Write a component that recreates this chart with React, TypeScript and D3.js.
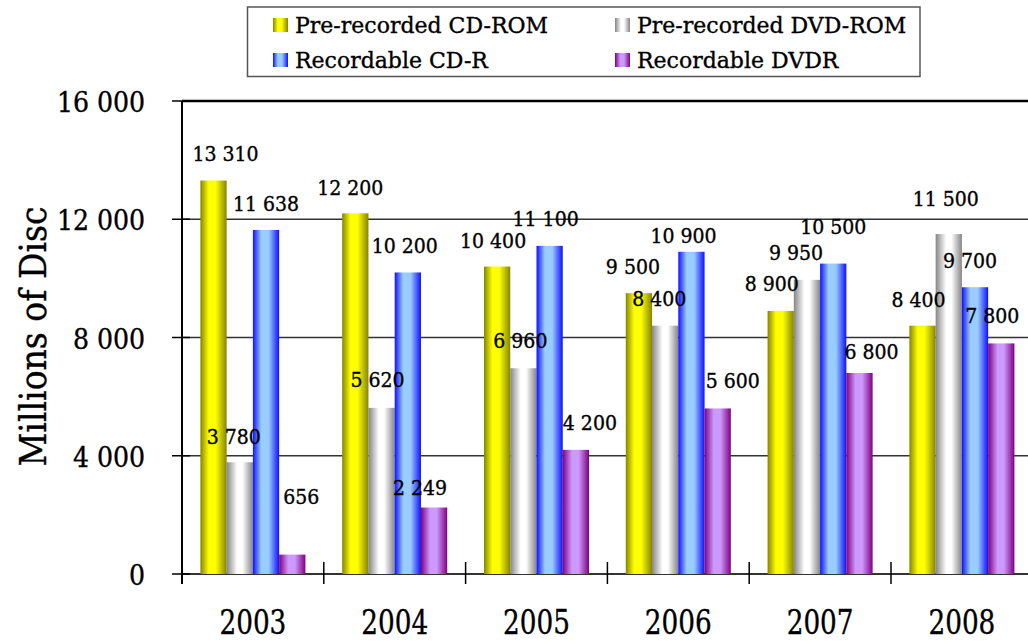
import React from "react";
import * as d3 from "d3";

const years = ["2003", "2004", "2005", "2006", "2007", "2008"];
const seriesNames = ["Pre-recorded CD-ROM", "Pre-recorded DVD-ROM", "Recordable CD-R", "Recordable DVDR"];
const cdRom = [13310, 12200, 10400, 9500, 8900, 8400];
const dvdRom = [3780, 5620, 6960, 8400, 9950, 11500];
const cdR = [11638, 10200, 11100, 10900, 10500, 9700];
const dvdR = [656, 2249, 4200, 5600, 6800, 7800];
const yTicks = [0, 4000, 8000, 12000, 16000];
const seriesValues = [cdRom, dvdRom, cdR, dvdR];

// label nudges [dx, dy] relative to bar centre / bar top (per series, per year)
const labelNudge: number[][][] = [
  [[12, -20], [-5, -18], [-4, -19], [-6, -19], [-9, -20], [-4, -19]],
  [[-6, -18], [-4, -21], [-3, -20], [-6, -20], [-11, -20], [-3, -28]],
  [[0, -19], [-3, -19], [-4, -20], [-8, -9], [0, -30], [-5, -19]],
  [[9, -51], [-14, -13], [14, -20], [15, -20], [12, -14], [-9, -20]],
];

const gradients = [
  { id: "gY", stops: [["0%", "#858500"], ["32%", "#ffff00"], ["58%", "#ffff00"], ["100%", "#858500"]] },
  { id: "gG", stops: [["0%", "#858585"], ["40%", "#ffffff"], ["60%", "#ffffff"], ["100%", "#858585"]] },
  { id: "gB", stops: [["0%", "#1010ff"], ["32%", "#99ccff"], ["60%", "#99ccff"], ["100%", "#1010ff"]] },
  { id: "gP", stops: [["0%", "#800080"], ["35%", "#cc99ff"], ["60%", "#cc99ff"], ["100%", "#800080"]] },
];

const FONT = "'DejaVu Serif Condensed', 'DejaVu Serif', serif";
const FONT_WIDE = "'DejaVu Serif', serif";

export default function App() {
  const W = 1028, H = 643;
  const x0 = d3.scaleBand<string>().domain(years).range([182, 182 + 6 * 141.8]).paddingInner(0).paddingOuter(0);
  const x1 = d3.scaleBand<number>().domain([0, 1, 2, 3]).range([0, x0.bandwidth()]).paddingInner(0).paddingOuter(0.7);
  const y = d3.scaleLinear().domain([0, 16000]).range([574, 101]);
  const fmt = d3.formatLocale({ thousands: " ", grouping: [3], decimal: ".", currency: ["", ""] }).format(",d");

  const boundaries = years.map((yr) => x0(yr)!);
  const textStroke = { stroke: "#000", strokeWidth: 0.35 };

  return (
    <svg width={W} height={H} style={{ position: "absolute", left: 0, top: 0, background: "#fff" }} fontFamily={FONT}>
      <defs>
        {gradients.map((g) => (
          <linearGradient key={g.id} id={g.id} x1="0" y1="0" x2="1" y2="0">
            {g.stops.map(([o, c]) => (
              <stop key={o} offset={o} stopColor={c} />
            ))}
          </linearGradient>
        ))}
      </defs>
      <rect x={0} y={0} width={W} height={H} fill="#fff" />

      {/* gridlines */}
      {yTicks.map((t) => (
        <line key={t} x1={182} x2={W} y1={y(t)} y2={y(t)} stroke={t === 16000 ? "#000" : "#333"} strokeWidth={t === 16000 ? 2.5 : t === 0 ? 2 : 1.6} />
      ))}

      {/* bars */}
      {years.map((yr, i) =>
        seriesValues.map((vals, s) => (
          <rect key={yr + s} x={x0(yr)! + x1(s)!} y={y(vals[i])} width={x1.bandwidth()} height={y(0) - y(vals[i])} fill={`url(#${gradients[s].id})`} />
        ))
      )}

      {/* y axis */}
      <line x1={182} x2={182} y1={y(16000)} y2={y(0) + 10} stroke="#000" strokeWidth={2} />
      {yTicks.map((t) => (
        <g key={t}>
          <line x1={172} x2={190} y1={y(t)} y2={y(t)} stroke="#000" strokeWidth={1.5} />
          <text x={145} y={y(t) + 11} textAnchor="end" fontSize={28} fill="#000" {...textStroke}>{fmt(t)}</text>
        </g>
      ))}

      {/* x axis ticks */}
      {boundaries.map((b) => (
        <line key={b} x1={b} x2={b} y1={y(0) - 12} y2={y(0) + 10} stroke="#000" strokeWidth={1.5} />
      ))}
      {years.map((yr) => (
        <text key={yr} transform={`translate(${x0(yr)! + x0.bandwidth() / 2},634) scale(0.86,1)`} textAnchor="middle" fontSize={34} fill="#000" {...textStroke}>{yr}</text>
      ))}

      {/* data labels */}
      {years.map((yr, i) =>
        seriesValues.map((vals, s) => {
          const cx = x0(yr)! + x1(s)! + x1.bandwidth() / 2;
          const [dx, dy] = labelNudge[s][i];
          return (
            <text key={"l" + yr + s} x={cx + dx} y={y(vals[i]) + dy} textAnchor="middle" fontSize={21} fill="#000" {...textStroke}>{fmt(vals[i])}</text>
          );
        })
      )}

      {/* y title */}
      <text transform="translate(46,336.5) rotate(-90)" textAnchor="middle" fontSize={37} textLength={260} lengthAdjust="spacingAndGlyphs" fill="#000" {...textStroke}>Millions of Disc</text>

      {/* legend */}
      <rect x={247.5} y={7} width={672.5} height={69.5} fill="#fff" stroke="#555" strokeWidth={1.5} />
      {seriesNames.map((name, s) => {
        const col = s % 2;
        const row = Math.floor(s / 2);
        const sx = col === 0 ? 273 : 615;
        const cy = row === 0 ? 25 : 60;
        return (
          <g key={name}>
            <rect x={sx} y={cy - 7} width={15} height={14} fill={`url(#${gradients[s].id})`} />
            <text x={sx + 22} y={cy + 8} fontSize={22} fontFamily={FONT_WIDE} fill="#000" {...textStroke}>{name}</text>
          </g>
        );
      })}
    </svg>
  );
}
